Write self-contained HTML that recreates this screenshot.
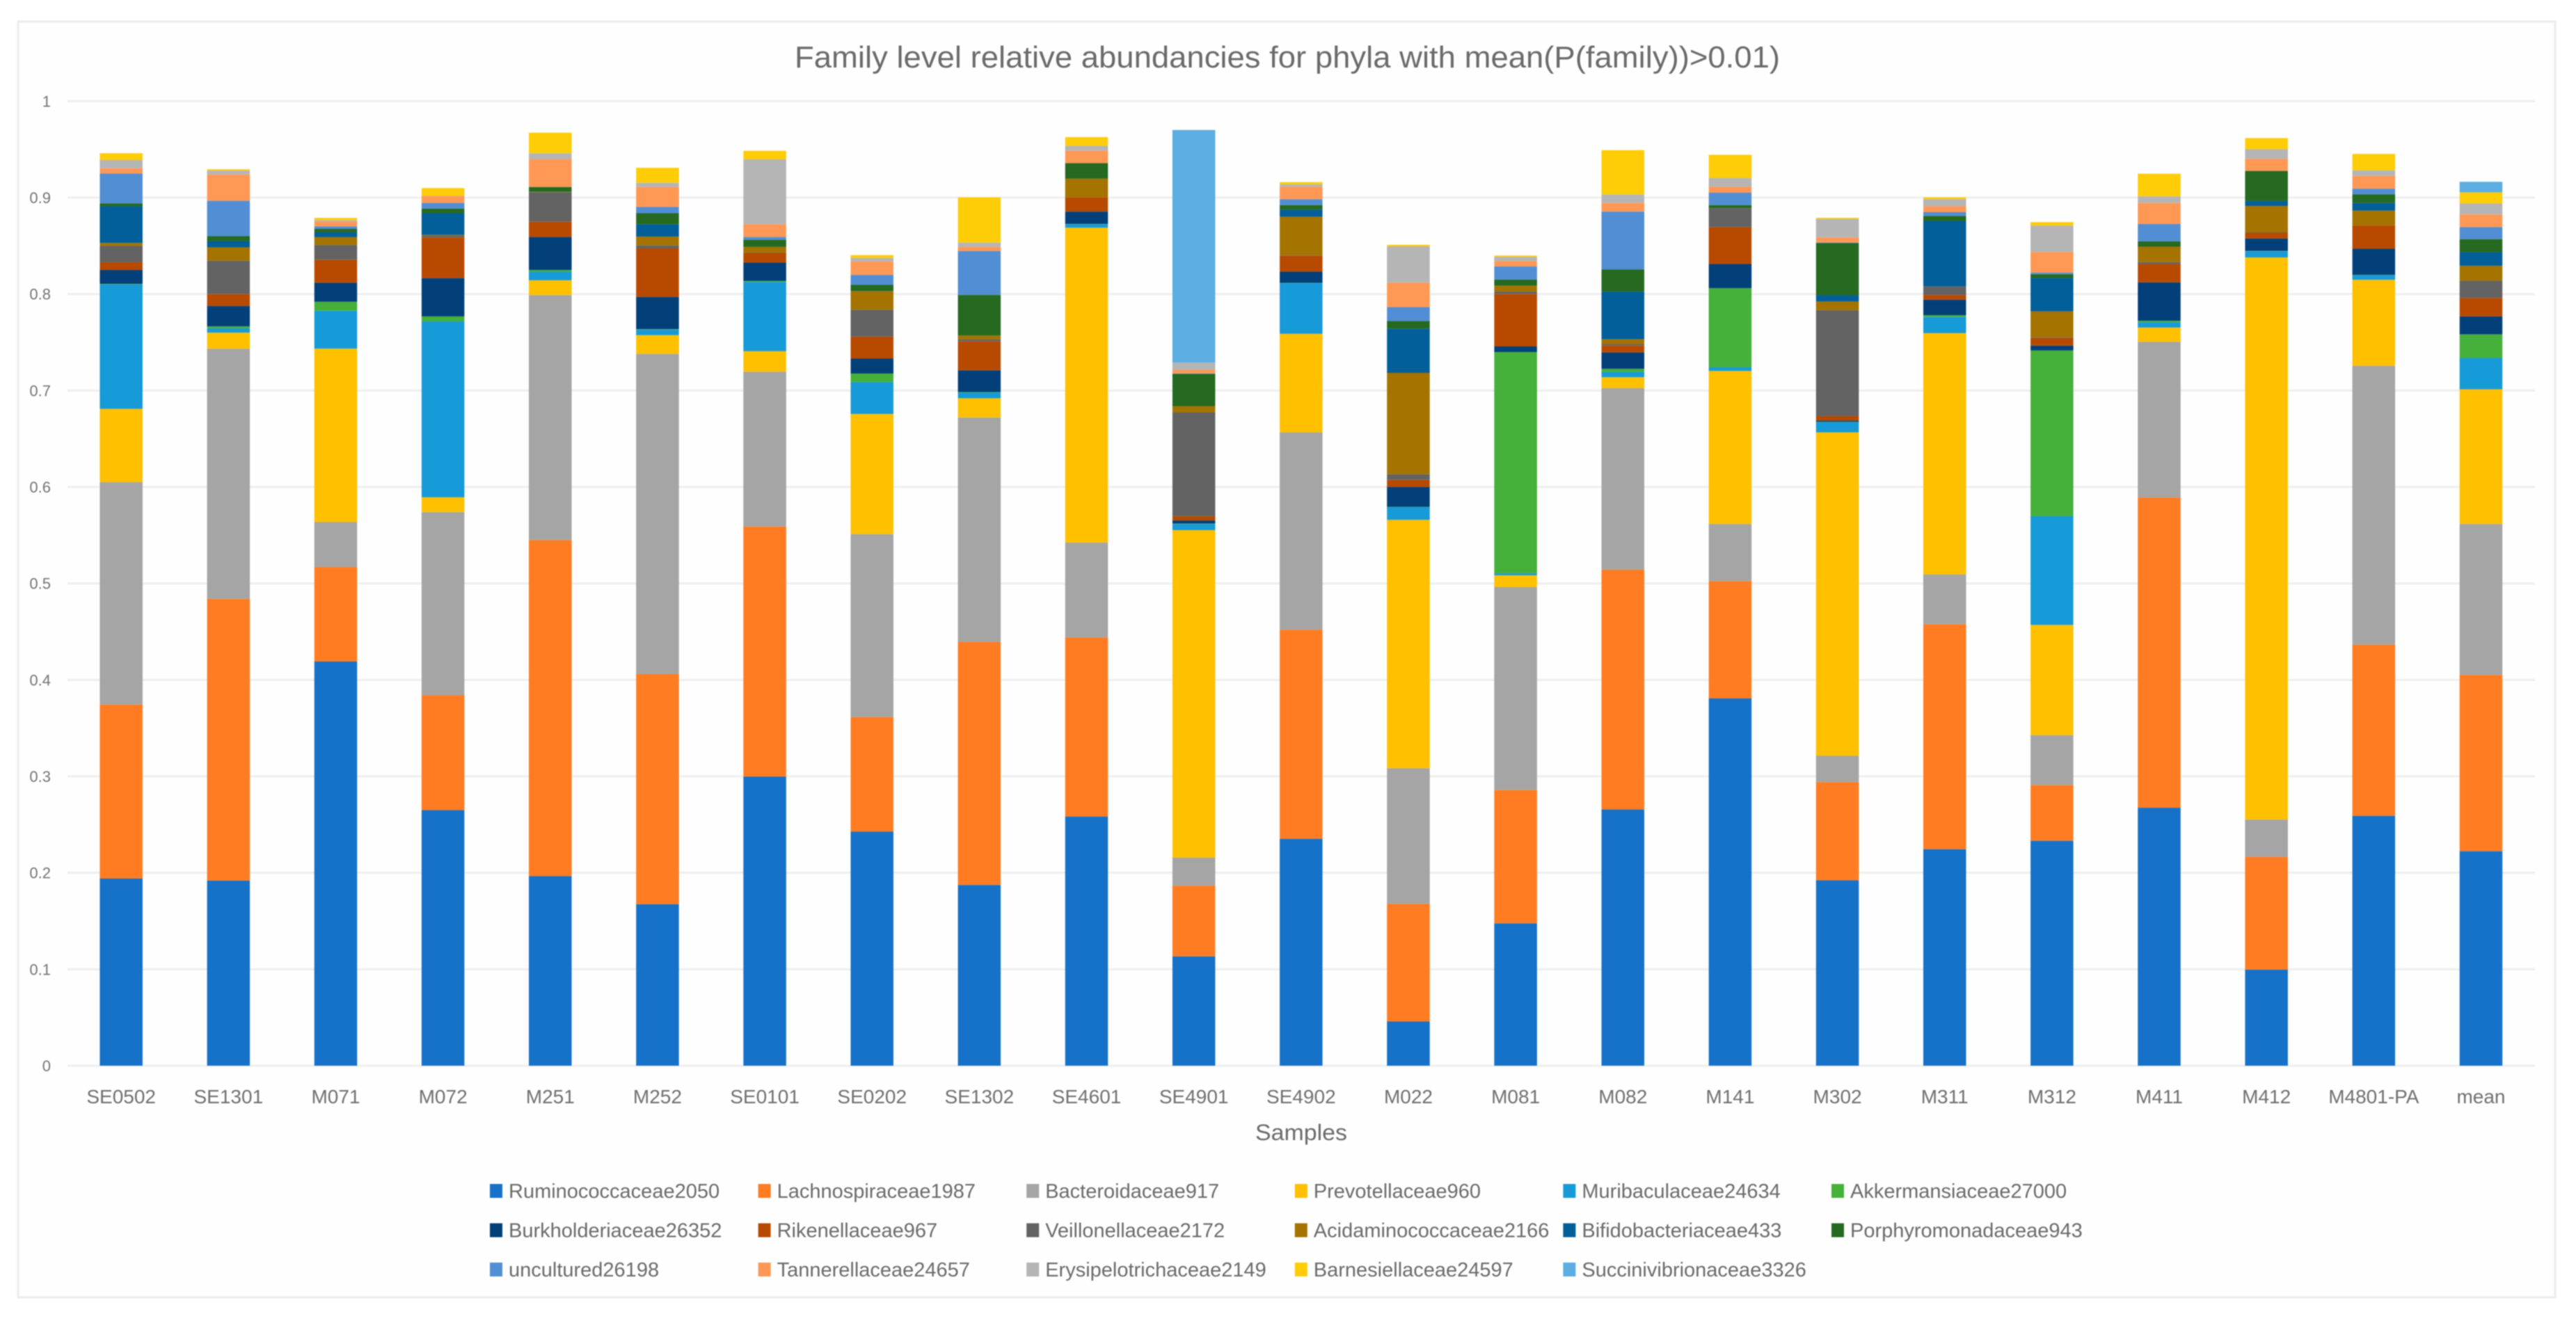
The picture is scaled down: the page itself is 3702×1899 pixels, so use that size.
<!DOCTYPE html>
<html lang="en">
<head>
<meta charset="utf-8">
<title>Family level relative abundancies</title>
<style>
  html, body { margin: 0; padding: 0; background: #ffffff; }
  body { width: 3702px; height: 1899px; overflow: hidden; }
  svg { display: block; filter: blur(0.8px); }
  text { font-family: "Liberation Sans", sans-serif; }
</style>
</head>
<body>
<svg id="chart" xmlns="http://www.w3.org/2000/svg" width="3702" height="1899" viewBox="0 0 3702 1899">
  <rect x="0" y="0" width="3702" height="1899" fill="#ffffff"></rect>
  <rect x="26" y="31" width="3646" height="1834" fill="#fefefe" stroke="#ececec" stroke-width="3"></rect>
  <text x="1850" y="97" text-anchor="middle" font-size="44" fill="#6a6a6a" textLength="1416" lengthAdjust="spacingAndGlyphs">Family level relative abundancies for phyla with mean(P(family))&gt;0.01)</text>
  <text x="1870" y="1639" text-anchor="middle" font-size="32" fill="#6a6a6a" textLength="132" lengthAdjust="spacingAndGlyphs">Samples</text>
  <g id="grid"></g>
  <g id="yticks"></g>
  <g id="bars"></g>
  <g id="xticks"></g>
  <g id="legend"></g>
</svg>
<script>
const categories = ["SE0502","SE1301","M071","M072","M251","M252","SE0101","SE0202","SE1302","SE4601","SE4901","SE4902","M022","M081","M082","M141","M302","M311","M312","M411","M412","M4801-PA","mean"];
const yTickValues = [0,0.1,0.2,0.3,0.4,0.5,0.6,0.7,0.8,0.9,1];
const yTickLabels = ["0","0.1","0.2","0.3","0.4","0.5","0.6","0.7","0.8","0.9","1"];

const seriesNames = ["Ruminococcaceae2050","Lachnospiraceae1987","Bacteroidaceae917","Prevotellaceae960","Muribaculaceae24634","Akkermansiaceae27000","Burkholderiaceae26352","Rikenellaceae967","Veillonellaceae2172","Acidaminococcaceae2166","Bifidobacteriaceae433","Porphyromonadaceae943","uncultured26198","Tannerellaceae24657","Erysipelotrichaceae2149","Barnesiellaceae24597","Succinivibrionaceae3326"];
const seriesColors = ["#1572c8","#ff7c22","#a5a5a5","#ffc000","#179ad8","#45b03a","#03407a","#b84a00","#636363","#a47300","#025f99","#256a20","#528ed4","#ff9855","#b5b5b5","#ffcc08","#5cade2"];

const ruminococcaceae = [.194,.192,.419,.265,.1965,.1675,.2997,.2427,.1874,.2584,.1133,.2353,.0458,.1476,.2657,.3808,.1923,.2245,.2332,.2675,.0997,.2591,.2224];
const lachnospiraceae = [.1805,.292,.098,.119,.3485,.2385,.2593,.1188,.2521,.1856,.0734,.2168,.122,.1381,.2486,.1216,.1018,.2332,.0577,.3216,.1167,.1773,.1828];
const bacteroidaceae = [.2305,.2594,.0466,.1899,.2539,.332,.1605,.1896,.2325,.0984,.029,.2045,.1406,.2105,.1883,.0593,.0272,.0517,.0518,.1614,.0388,.2893,.1565];
const prevotellaceae = [.076,.0166,.1798,.0154,.0154,.0194,.0213,.1246,.02,.3264,.3396,.1022,.2575,.0122,.0112,.1586,.3353,.2501,.1143,.0148,.5828,.0891,.1396];
const muribaculaceae = [.129,.0044,.0393,.1824,.0089,.0058,.0717,.0331,.0058,.0037,.0064,.0525,.0132,.0021,.0055,.0038,.0106,.0167,.1128,.0054,.0064,.0048,.0325];
const akkermansiaceae = [.0005,.0021,.0093,.0051,.0018,.0004,.0011,.0088,.0006,.0002,.0003,.0003,.0003,.2294,.0032,.082,.0003,.0019,.1717,.0016,.0003,.0003,.0244];
const burkholderiaceae = [.0145,.021,.0198,.0397,.0342,.0334,.0191,.0155,.0226,.0128,.0033,.0116,.0206,.0058,.017,.0251,.0013,.0161,.0051,.0399,.0129,.0271,.0186];
const rikenellaceae = [.008,.0125,.0239,.0423,.0158,.0504,.01,.0228,.03,.0148,.0045,.0163,.0074,.0543,.0071,.0383,.0048,.0048,.0078,.019,.006,.0241,.0193];
const veillonellaceae = [.017,.0346,.015,.0019,.0307,.003,.0003,.0279,.002,0,.1074,.0004,.0058,.0026,.0016,.0196,.1097,.009,.0006,.0019,.0004,0,.0177];
const acidaminococcaceae = [.003,.0139,.0083,.0007,.0003,.0092,.0059,.0192,.004,.0193,.0064,.0402,.1051,.0061,.0049,0,.009,0,.027,.0161,.0273,.0154,.0155];
const bifidobacteriaceae = [.038,.0065,.005,.0224,0,.0128,0,.0003,0,0,0,.0074,.0457,0,.0495,0,.0064,.0679,.0347,0,.0052,.008,.0141];
const porphyromonadaceae = [.003,.005,.0036,.0048,.005,.0114,.0074,.0063,.042,.0161,.0338,.0048,.008,.0064,.0228,.0032,.0541,.0051,.0039,.0055,.0312,.009,.0135];
const uncultured = [.031,.0367,.0026,.0059,0,.0066,.0029,.0103,.0457,0,.0003,.0061,.0145,.0135,.0601,.0128,.0006,.0039,.0016,.018,0,.0058,.0126];
const tannerellaceae = [.0055,.0273,.0052,.007,.029,.0206,.0132,.0139,.0043,.0129,.0038,.0129,.0254,.0055,.009,.0062,.0054,.0061,.0215,.0218,.0125,.0132,.0131];
const erysipelotrichaceae = [.0085,.004,.0014,.0003,.006,.0044,.0673,.0037,.0044,.0051,.0074,.0025,.0376,.0045,.0087,.009,.019,.0074,.0274,.0068,.01,.0058,.0113];
const barnesiellaceae = [.007,.0014,.0022,.0081,.0213,.0155,.0088,.0029,.0469,.009,0,.0023,.0016,.0013,.046,.0241,.0013,.0019,.0035,.0235,.0115,.017,.0116];
const succinivibrionaceae = [0,0,0,0,0,0,0,0,0,0,.2412,0,0,0,0,0,0,0,0,0,0,0,.0109];

const seriesValues = [ruminococcaceae,lachnospiraceae,bacteroidaceae,prevotellaceae,muribaculaceae,akkermansiaceae,burkholderiaceae,rikenellaceae,veillonellaceae,acidaminococcaceae,bifidobacteriaceae,porphyromonadaceae,uncultured,tannerellaceae,erysipelotrichaceae,barnesiellaceae,succinivibrionaceae];

const NS = "http://www.w3.org/2000/svg";
const plotLeft = 97.1, plotRight = 3643, yZero = 1532, yOne = 145.4;
const bandStep = 154.15, barWidth = 61.5;

function xCenter(i) { return plotLeft + (i + 0.5) * bandStep; }
function yScale(v) { return yZero - v * (yZero - yOne); }
function makeEl(tag, attrs, parent) {
  const el = document.createElementNS(NS, tag);
  for (const k in attrs) el.setAttribute(k, attrs[k]);
  parent.appendChild(el);
  return el;
}

const gridGroup = document.getElementById("grid");
const yTickGroup = document.getElementById("yticks");
yTickValues.forEach(function (v, i) {
  const y = yScale(v);
  const line = makeEl("line", { x1: plotLeft, x2: plotRight, y1: y, y2: y, stroke: "#eeeeee", "stroke-width": 3 }, gridGroup);
  
  
  const label = makeEl("text", { x: 73, y: y + 8, "text-anchor": "end", "font-size": 22, fill: "#737373" }, yTickGroup);
  
  
  label.textContent = yTickLabels[i];
});

const barsGroup = document.getElementById("bars");
const xTickGroup = document.getElementById("xticks");
categories.forEach(function (cat, i) {
  const stack = makeEl("g", {}, barsGroup);
  
  
  let cum = 0;
  seriesValues.forEach(function (values, s) {
    const v = values[i];
    const top = yScale(cum + v);
    const bottom = yScale(cum);
    const seg = makeEl("rect", { x: xCenter(i) - barWidth / 2, y: top, width: barWidth, height: Math.max(0, bottom - top), fill: seriesColors[s] }, stack);
    
    
    cum += v;
  });
  const tick = makeEl("text", { x: xCenter(i), y: 1586, "text-anchor": "middle", "font-size": 28, fill: "#6f6f6f" }, xTickGroup);
  
  
  tick.textContent = cat;
});

const legendGroup = document.getElementById("legend");
const legendLeft = 704, legendColStep = 385.6, legendTop = 1712, legendRowStep = 56.5, legendCols = 6;
seriesNames.forEach(function (name, s) {
  const col = s % legendCols;
  const row = Math.floor(s / legendCols);
  const lx = legendLeft + col * legendColStep;
  const ly = legendTop + row * legendRowStep;
  const entry = makeEl("g", {}, legendGroup);
  
  
  const swatch = makeEl("rect", { x: lx, y: ly - 10, width: 18, height: 20, fill: seriesColors[s] }, entry);
  
  
  const text = makeEl("text", { x: lx + 27, y: ly + 10, "font-size": 29, fill: "#6a6a6a" }, entry);
  
  
  text.textContent = name;
});
</script>
</body>
</html>
